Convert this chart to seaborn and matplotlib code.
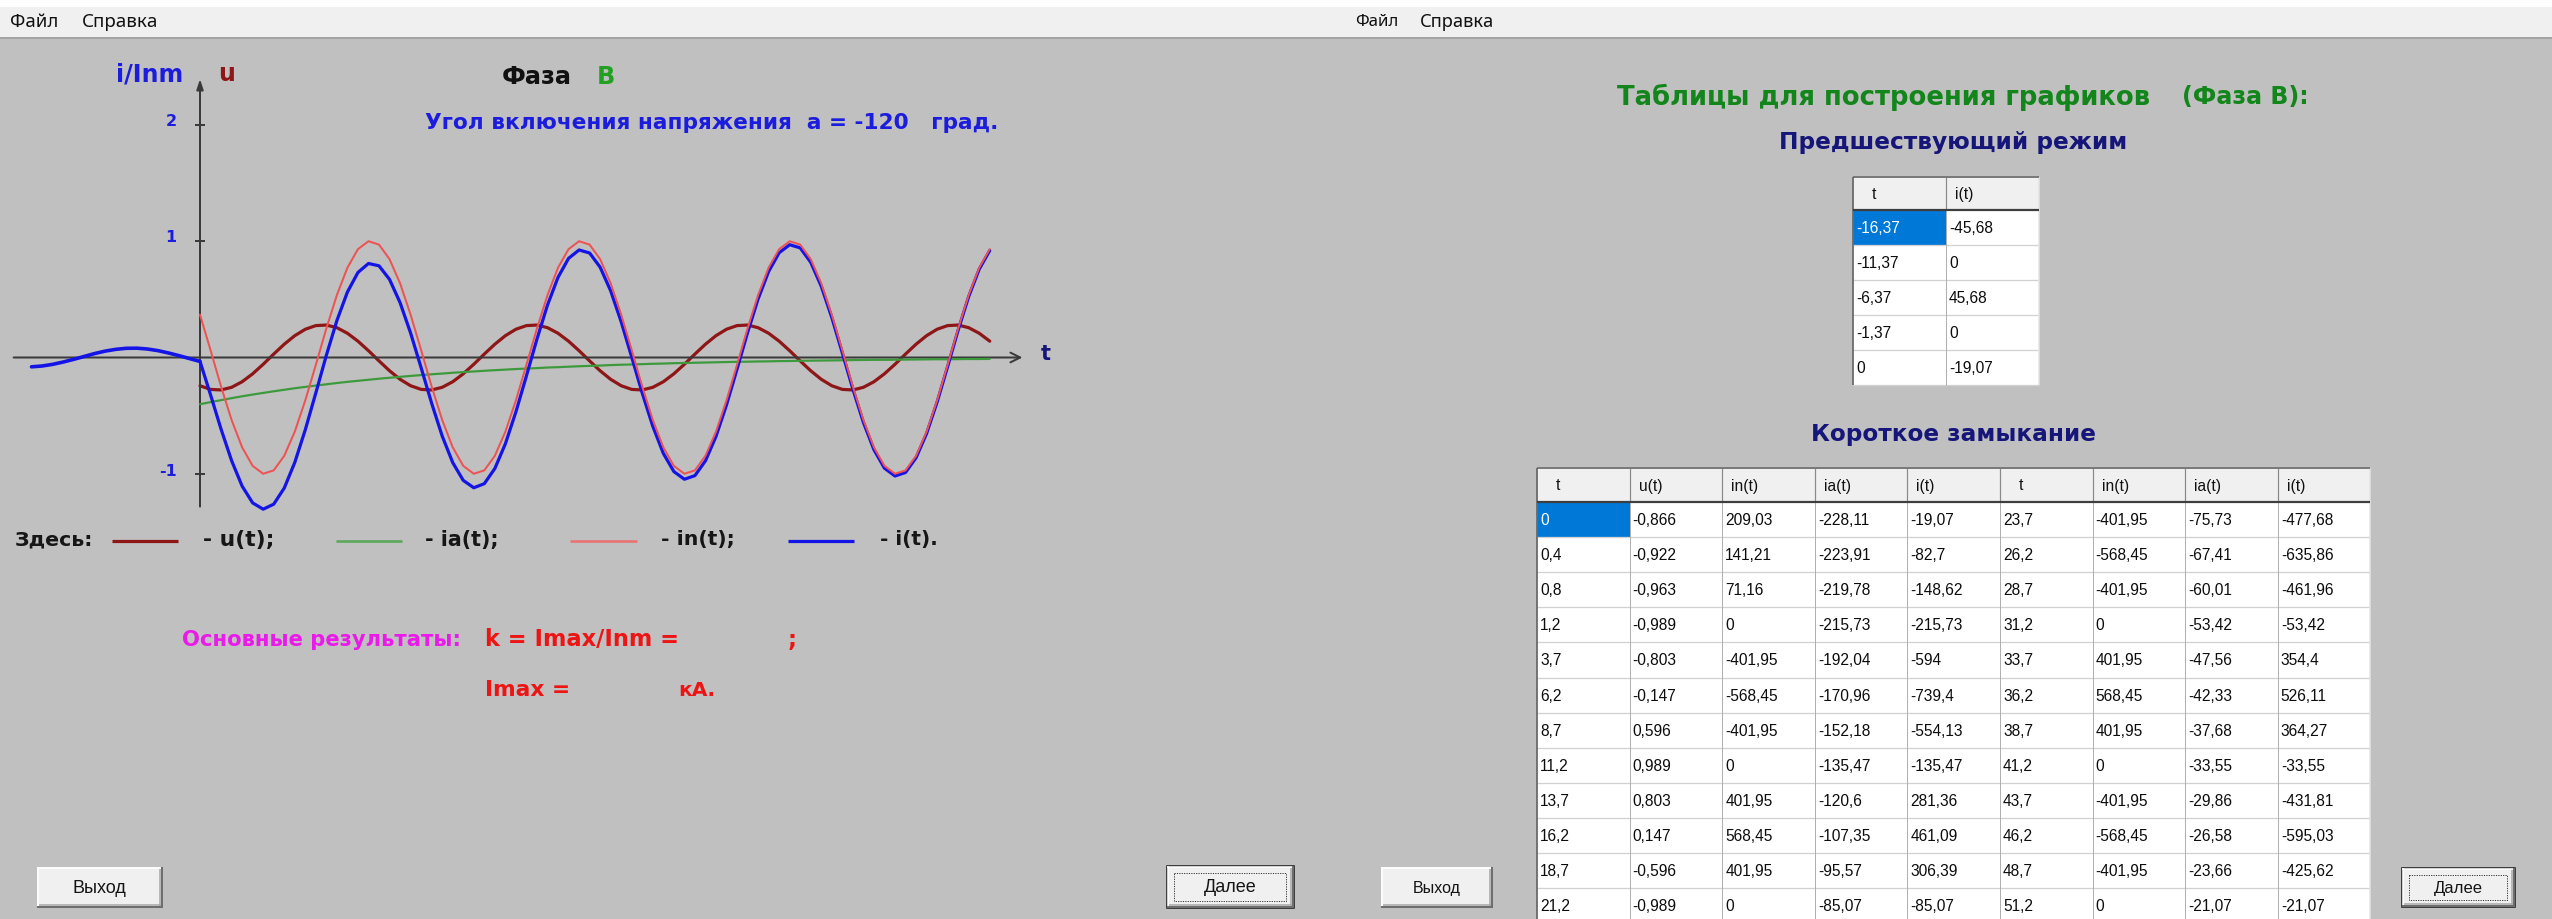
import matplotlib
matplotlib.use("Agg")
import matplotlib.pyplot as plt
from matplotlib.patches import Rectangle
from matplotlib import font_manager
import seaborn as sns

sns.set_style("white")
plt.rcParams["font.family"] = ["DejaVu Sans"]

# ---------------- curves: t in ms, currents in units of Inm, u in units of Um ----------------
T_SC = list(range(0, 76))
U_SC = [
    -0.866, -0.978, -0.995, -0.914, -0.743, -0.500, -0.208, 0.105, 0.407, 0.669,
    0.866, 0.978, 0.995, 0.914, 0.743, 0.500, 0.208, -0.105, -0.407, -0.669,
    -0.866, -0.978, -0.995, -0.914, -0.743, -0.500, -0.208, 0.105, 0.407, 0.669,
    0.866, 0.978, 0.995, 0.914, 0.743, 0.500, 0.208, -0.105, -0.407, -0.669,
    -0.866, -0.978, -0.995, -0.914, -0.743, -0.500, -0.208, 0.105, 0.407, 0.669,
    0.866, 0.978, 0.995, 0.914, 0.743, 0.500, 0.208, -0.105, -0.407, -0.669,
    -0.866, -0.978, -0.995, -0.914, -0.743, -0.500, -0.208, 0.105, 0.407, 0.669,
    0.866, 0.978, 0.995, 0.914, 0.743, 0.500,
]
IN_SC = [
    0.368, 0.063, -0.249, -0.536, -0.771, -0.930, -0.998, -0.969, -0.844, -0.637,
    -0.368, -0.063, 0.249, 0.536, 0.771, 0.930, 0.998, 0.969, 0.844, 0.637,
    0.368, 0.063, -0.249, -0.536, -0.771, -0.930, -0.998, -0.969, -0.844, -0.637,
    -0.368, -0.063, 0.249, 0.536, 0.771, 0.930, 0.998, 0.969, 0.844, 0.637,
    0.368, 0.063, -0.249, -0.536, -0.771, -0.930, -0.998, -0.969, -0.844, -0.637,
    -0.368, -0.063, 0.249, 0.536, 0.771, 0.930, 0.998, 0.969, 0.844, 0.637,
    0.368, 0.063, -0.249, -0.536, -0.771, -0.930, -0.998, -0.969, -0.844, -0.637,
    -0.368, -0.063, 0.249, 0.536, 0.771, 0.930,
]
IA_SC = [
    -0.401, -0.383, -0.366, -0.349, -0.333, -0.318, -0.304, -0.290, -0.277, -0.264,
    -0.252, -0.241, -0.230, -0.219, -0.209, -0.200, -0.191, -0.182, -0.174, -0.166,
    -0.158, -0.151, -0.144, -0.138, -0.131, -0.125, -0.120, -0.114, -0.109, -0.104,
    -0.099, -0.095, -0.091, -0.086, -0.083, -0.079, -0.075, -0.072, -0.069, -0.065,
    -0.062, -0.060, -0.057, -0.054, -0.052, -0.049, -0.047, -0.045, -0.043, -0.041,
    -0.039, -0.037, -0.036, -0.034, -0.033, -0.031, -0.030, -0.028, -0.027, -0.026,
    -0.025, -0.024, -0.022, -0.021, -0.020, -0.020, -0.019, -0.018, -0.017, -0.016,
    -0.015, -0.015, -0.014, -0.013, -0.013, -0.012,
]
I_SC = [
    -0.033, -0.320, -0.615, -0.885, -1.104, -1.248, -1.302, -1.259, -1.121, -0.901,
    -0.620, -0.304, 0.019, 0.317, 0.562, 0.730, 0.807, 0.787, 0.670, 0.471,
    0.210, -0.088, -0.393, -0.674, -0.902, -1.055, -1.118, -1.083, -0.953, -0.741,
    -0.467, -0.158, 0.158, 0.450, 0.688, 0.851, 0.923, 0.897, 0.775, 0.572,
    0.306, 0.003, -0.306, -0.590, -0.823, -0.979, -1.045, -1.014, -0.887, -0.678,
    -0.407, -0.100, 0.213, 0.502, 0.738, 0.899, 0.968, 0.941, 0.817, 0.611,
    0.343, 0.039, -0.271, -0.557, -0.791, -0.950, -1.017, -0.987, -0.861, -0.653,
    -0.383, -0.078, 0.235, 0.523, 0.758, 0.918,
]
# load current before the fault
T_PRE = [-16, -15, -14, -13, -12, -11, -10, -9, -8, -7, -6, -5, -4, -3, -2, -1, 0]
I_PRE = [-0.080, -0.073, -0.059, -0.039, -0.016, 0.009, 0.034, 0.055, 0.070,
         0.079, 0.080, 0.073, 0.059, 0.039, 0.016, -0.009, -0.034]

# ---------------- tables ----------------
PRE_HEADERS = ["t", "i(t)"]
PRE_T = [-16.37, -11.37, -6.37, -1.37, 0]
PRE_I = [-45.68, 0, 45.68, 0, -19.07]

SC_HEADERS = ["t", "u(t)", "in(t)", "ia(t)", "i(t)", "t", "in(t)", "ia(t)", "i(t)"]
SC_T1 = [0, 0.4, 0.8, 1.2, 3.7, 6.2, 8.7, 11.2, 13.7, 16.2, 18.7, 21.2]
SC_U = [-0.866, -0.922, -0.963, -0.989, -0.803, -0.147, 0.596, 0.989, 0.803, 0.147, -0.596, -0.989]
SC_IN1 = [209.03, 141.21, 71.16, 0, -401.95, -568.45, -401.95, 0, 401.95, 568.45, 401.95, 0]
SC_IA1 = [-228.11, -223.91, -219.78, -215.73, -192.04, -170.96, -152.18, -135.47, -120.6, -107.35, -95.57, -85.07]
SC_I1 = [-19.07, -82.7, -148.62, -215.73, -594, -739.4, -554.13, -135.47, 281.36, 461.09, 306.39, -85.07]
SC_T2 = [23.7, 26.2, 28.7, 31.2, 33.7, 36.2, 38.7, 41.2, 43.7, 46.2, 48.7, 51.2]
SC_IN2 = [-401.95, -568.45, -401.95, 0, 401.95, 568.45, 401.95, 0, -401.95, -568.45, -401.95, 0]
SC_IA2 = [-75.73, -67.41, -60.01, -53.42, -47.56, -42.33, -37.68, -33.55, -29.86, -26.58, -23.66, -21.07]
SC_I2 = [-477.68, -635.86, -461.96, -53.42, 354.4, 526.11, 364.27, -33.55, -431.81, -595.03, -425.62, -21.07]

# ---------------- colours ----------------
GREY = "#c0c0c0"
MENU = "#f0f0f0"
C_I = "#1414e6"
C_IN = "#ee5252"
C_U = "#8e1616"
C_IA = "#3c9a3c"
C_AXIS = "#3a3a3a"
C_LBL = "#1c1cde"
C_NAVY = "#16167a"
C_GREEN = "#12861a"
C_RED = "#ee1414"
C_MAGENTA = "#ea1aea"

W, H, DPI = 2552, 919, 100


def lw(px):
    return px * 72.0 / DPI


names = {f.name for f in font_manager.fontManager.ttflist}
if "Liberation Sans Narrow" in names:
    TABLE_FAMILY, TABLE_FS = "Liberation Sans Narrow", 12.5
else:
    TABLE_FAMILY, TABLE_FS = "Liberation Sans", 11.2
BTN_FAMILY = "Liberation Sans"
MENU_FAMILY = "Noto Sans"

fig = plt.figure(figsize=(W / DPI, H / DPI), dpi=DPI)
fig.patch.set_facecolor(GREY)
bg = fig.add_axes([0, 0, 1, 1])
bg.set_xlim(0, W)
bg.set_ylim(H, 0)
bg.set_autoscale_on(False)
bg.axis("off")
bg.set_zorder(0)
renderer = fig.canvas.get_renderer()


def rect(x0, y0, x1, y1, fc, ec="none", px=0.0, **kw):
    bg.add_patch(Rectangle((x0, y0), x1 - x0, y1 - y0, facecolor=fc,
                           edgecolor=ec, linewidth=lw(px), **kw))


def hline(x0, x1, y, color, px=1.0, **kw):
    bg.plot([x0, x1], [y, y], color=color, linewidth=lw(px), solid_capstyle="butt", **kw)


def vline(x, y0, y1, color, px=1.0, **kw):
    bg.plot([x, x], [y0, y1], color=color, linewidth=lw(px), solid_capstyle="butt", **kw)


def fit_text(x0, x1, y, s, size=12.0, **kw):
    t = bg.text(x0, y, s, fontsize=size, ha="left", va="center", **kw)
    w = t.get_window_extent(renderer).width
    t.set_fontsize(size * (x1 - x0) / w)
    return t


def fmt(v):
    return ("%g" % v).replace(".", ",")


# ---------------- window chrome ----------------
rect(0, 0, W, H, GREY)
rect(0, 0, W, 7, "white")
rect(0, 7, W, 37, MENU)
hline(0, W, 37.5, "#9a9a9a", 1.5)
for x0, x1, s in [(10, 58, "Файл"), (82, 158, "Справка"),
                  (1355, 1398, "Файл"), (1420, 1494, "Справка")]:
    fit_text(x0, x1, 22, s, family=MENU_FAMILY, color="#111111")


def button(x0, y0, x1, y1, label, tw, default=False):
    rect(x0, y0, x1, y1, "#f0f0f0")
    hline(x0, x1, y0 + 0.7, "white", 1.5)
    vline(x0 + 0.7, y0, y1, "white", 1.5)
    hline(x0, x1, y1 - 1, "#6e6e6e", 2)
    vline(x1 - 1, y0, y1, "#6e6e6e", 2)
    hline(x0 + 1.5, x1 - 2, y1 - 3, "#a6a6a6", 1.5)
    vline(x1 - 3, y0 + 1.5, y1 - 2, "#a6a6a6", 1.5)
    if default:
        rect(x0, y0, x1, y1, "none", ec="#1e1e1e", px=1.6)
        rect(x0 + 7, y0 + 7, x1 - 8, y1 - 7, "none", ec="#3c3c3c", px=1.0,
             linestyle=(0, (1.2, 1.2)))
    cx = 0.5 * (x0 + x1)
    fit_text(cx - tw / 2, cx + tw / 2, 0.5 * (y0 + y1) + 1, label,
             family=BTN_FAMILY, color="#141414")


button(37, 867, 163, 908, "Выход", 54)
button(1167, 866, 1294, 908, "Далее", 53, default=True)
button(1381, 867, 1493, 908, "Выход", 48)
button(2402, 868, 2515, 907, "Далее", 49, default=True)

# ---------------- oscillogram ----------------
PX_T0, PX_PER_MS = 200.0, 10.53
PX_Y0, PX_PER_UNIT = 357.5, 116.5
BOX = (0, 60, 1100, 560)
U_SCALE = 0.28
AXIS_T = (-17.7, 78.1)
AXIS_Y = (-1.28, 2.39)

ax = fig.add_axes([BOX[0] / W, 1 - BOX[3] / H, (BOX[2] - BOX[0]) / W, (BOX[3] - BOX[1]) / H])
ax_u = ax.twinx()
for a in (ax, ax_u):
    a.patch.set_visible(False)
ax_u.set_zorder(2)
ax.set_zorder(3)

sns.lineplot(x=T_SC, y=U_SC, ax=ax_u, color=C_U, linewidth=lw(3.2),
             estimator=None, sort=False)
sns.lineplot(x=T_SC, y=IA_SC, ax=ax, color=C_IA, linewidth=lw(2.2),
             estimator=None, sort=False)
sns.lineplot(x=T_PRE, y=I_PRE, ax=ax, color=C_I, linewidth=lw(3.6),
             estimator=None, sort=False)
sns.lineplot(x=T_SC, y=I_SC, ax=ax, color=C_I, linewidth=lw(3.2),
             estimator=None, sort=False)
sns.lineplot(x=T_SC, y=IN_SC, ax=ax, color=C_IN, linewidth=lw(2.0),
             estimator=None, sort=False)

xl = ((BOX[0] - PX_T0) / PX_PER_MS, (BOX[2] - PX_T0) / PX_PER_MS)
yl = ((PX_Y0 - BOX[3]) / PX_PER_UNIT, (PX_Y0 - BOX[1]) / PX_PER_UNIT)
ax.set_xlim(*xl)
ax.set_ylim(*yl)
ax_u.set_ylim(yl[0] / U_SCALE, yl[1] / U_SCALE)
ax.axis("off")
ax_u.axis("off")

ax.annotate("", xy=(AXIS_T[1], 0), xytext=(AXIS_T[0], 0), zorder=1,
            arrowprops=dict(arrowstyle="->,head_length=0.7,head_width=0.35",
                            color=C_AXIS, lw=lw(2), shrinkA=0, shrinkB=0))
ax.annotate("", xy=(0, AXIS_Y[1]), xytext=(0, AXIS_Y[0]), zorder=1,
            arrowprops=dict(arrowstyle="-|>,head_length=0.6,head_width=0.2",
                            color=C_AXIS, lw=lw(2), shrinkA=0, shrinkB=0))
TICKS = [2, 1, -1]
ax.plot([0] * len(TICKS), TICKS, ls="none", marker="_", markersize=lw(10),
        markeredgewidth=lw(2), color=C_AXIS, zorder=1)
for v in TICKS:
    lab = "%d" % v
    dx = -32 if v < 0 else -29
    ax.annotate(lab, xy=(0, v), xytext=(dx, 3), textcoords="offset pixels",
                ha="center", va="center", fontsize=11.5, fontweight="bold", color=C_LBL)
ax.annotate("t", xy=(AXIS_T[1], 0), xytext=(23, 3), textcoords="offset pixels",
            ha="center", va="center", fontsize=15, fontweight="bold", color=C_NAVY)

# axis captions and headings
t_inm = fit_text(116, 183, 74, "i/Inm", weight="bold", color=C_LBL)
bg.text(218, 74, "u", fontsize=t_inm.get_fontsize(), ha="left", va="center",
        weight="bold", color=C_U)
t_ph = fit_text(502, 572, 77, "Фаза", weight="bold", color="#111111")
bg.text(597, 77, "В", fontsize=t_ph.get_fontsize(), ha="left", va="center",
        weight="bold", color="#22a022")
fit_text(425, 995, 123, "Угол включения напряжения  a = -120   град.",
         weight="bold", color=C_LBL)

# legend row
LEGEND_Y = 540
fit_text(15, 93, LEGEND_Y, "Здесь:", weight="bold", color="#161616")
for (lx0, lx1, col, px), (tx0, tx1, s) in zip(
        [(112, 178, C_U, 3.2), (336, 402, "#5aa85a", 2.6),
         (570, 637, "#ea7272", 2.6), (788, 854, C_I, 3.2)],
        [(203, 274, "- u(t);"), (425, 498, "- ia(t);"),
         (661, 734, "- in(t);"), (880, 937, "- i(t).")]):
    hline(lx0, lx1, LEGEND_Y + 1, col, px)
    fit_text(tx0, tx1, LEGEND_Y, s, weight="bold", color="#161616")

# results
fit_text(182, 460, 640, "Основные результаты:", weight="bold", color=C_MAGENTA)
t_k = fit_text(485, 678, 640, "k = Imax/Inm =", weight="bold", color=C_RED)
bg.text(788, 640, ";", fontsize=t_k.get_fontsize(), ha="left", va="center",
        weight="bold", color=C_RED)
fit_text(485, 570, 690, "Imax =", weight="bold", color=C_RED)
fit_text(678, 715, 690, "кА.", weight="bold", color=C_RED)

# ---------------- tables window ----------------
fit_text(1617, 2150, 97, "Таблицы для построения графиков", weight="bold", color=C_GREEN)
fit_text(2182, 2308, 97, "(Фаза В):", weight="bold", color=C_GREEN)
fit_text(1779, 2126, 143, "Предшествующий режим", weight="bold", color=C_NAVY)
fit_text(1811, 2094, 434, "Короткое замыкание", weight="bold", color=C_NAVY)


def draw_table(x0, col_w, y_top, head_h, row_h, headers, columns):
    n_cols = len(headers)
    n_rows = len(columns[0])
    xs = [x0 + k * col_w for k in range(n_cols + 1)]
    y_body = y_top + head_h
    y_end = y_body + n_rows * row_h
    rect(xs[0], y_top, xs[-1], y_body, "#f0f0f0")
    rect(xs[0], y_body, xs[-1], y_end, "white")
    rect(xs[0], y_body, xs[1], y_body + row_h, "#0078d7")
    for j, lab in enumerate(headers):
        pad = 19 if lab == "t" else 9
        bg.text(xs[j] + pad, y_top + head_h / 2 + 1, lab, fontsize=TABLE_FS,
                family=TABLE_FAMILY, ha="left", va="center", color="#101010")
        for r, v in enumerate(columns[j]):
            sel = (r == 0 and j == 0)
            bg.text(xs[j] + 3, y_body + (r + 0.5) * row_h + 1, fmt(v),
                    fontsize=TABLE_FS, family=TABLE_FAMILY, ha="left", va="center",
                    color="white" if sel else "#0c0c0c")
    for r in range(1, n_rows + 1):
        hline(xs[0], xs[-1], y_body + r * row_h, "#d2d2d2", 1.3)
    for x in xs[1:-1]:
        vline(x, y_body, y_end, "#b0b0b0", 1.0)
        vline(x, y_top, y_body, "#8a8a8a", 1.2)
    vline(xs[-1], y_top, y_end, "#e4e4e4", 1.5)
    hline(xs[0], xs[-1], y_top, "#7a7a7a", 2.0)
    vline(xs[0], y_top, y_end, "#6a6a6a", 1.8)
    hline(xs[0], xs[-1], y_body - 0.5, "#3e3e3e", 2.2)


draw_table(1853, 93.0, 177, 33, 35.0, PRE_HEADERS, [PRE_T, PRE_I])
draw_table(1537, 92.6, 468, 34, 35.1, SC_HEADERS,
           [SC_T1, SC_U, SC_IN1, SC_IA1, SC_I1, SC_T2, SC_IN2, SC_IA2, SC_I2])

fig.savefig("out.png", dpi=DPI, facecolor=GREY)
